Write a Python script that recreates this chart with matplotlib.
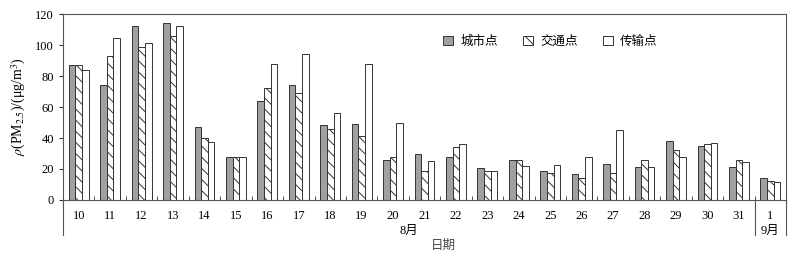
import numpy as np
import matplotlib.pyplot as plt

plt.rcParams['font.family'] = ['Liberation Serif', 'Noto Sans CJK SC']
plt.rcParams['mathtext.fontset'] = 'stix'
plt.rcParams['hatch.linewidth'] = 0.7

days = ['10', '11', '12', '13', '14', '15', '16', '17', '18', '19', '20', '21',
        '22', '23', '24', '25', '26', '27', '28', '29', '30', '31', '1']
city = [87, 74.5, 112, 114, 47, 28, 64, 74.5, 48.5, 49, 26, 29.5,
        27.5, 20.5, 26, 18.5, 17, 23, 21.5, 38, 35, 21.5, 14.5]
traffic = [87, 93, 99, 106, 40, 28, 72, 69, 46, 41, 27.5, 18.5,
           34.5, 19, 26, 17.5, 14.5, 17.5, 26, 32, 36, 25.5, 12.5]
transport = [84, 104.5, 101, 112, 37.5, 27.5, 88, 94, 56, 88, 50, 25,
             36, 19, 22, 22.5, 27.5, 45, 21.5, 27.5, 36.5, 24.5, 11.5]

fig = plt.figure(figsize=(8.01, 2.57), dpi=100)
ax = fig.add_axes([0.0787, 0.2218, 0.9026, 0.7237])

x = np.arange(len(days))
w = 0.21
ec = '#333333'
ax.bar(x - w, city, w, color='#a0a0a0', edgecolor=ec, linewidth=0.7, label='城市点')
ax.bar(x, traffic, w, color='white', edgecolor=ec, linewidth=0.7, hatch='\\\\\\', label='交通点')
ax.bar(x + w, transport, w, color='white', edgecolor=ec, linewidth=0.7, label='传输点')

ax.set_xlim(-0.5, len(days) - 0.5)
ax.set_ylim(0, 120)
ax.set_yticks(range(0, 121, 20))
ax.set_xticks(x)
ax.set_xticklabels(days)
ax.set_xticks(np.arange(0.5, len(days) - 1, 1), minor=True)
ax.tick_params(axis='x', which='major', length=0, pad=7, labelsize=9)
ax.tick_params(axis='x', which='minor', direction='in', length=3, color=ec)
ax.tick_params(axis='y', direction='out', length=3, labelsize=9, color=ec)
for s in ax.spines.values():
    s.set_color('#555555')
    s.set_linewidth(0.8)

tr = ax.get_xaxis_transform()
for xv in [-0.5, len(days) - 1.5, len(days) - 0.5]:
    ax.plot([xv, xv], [0, -0.19], transform=tr, clip_on=False, color='#555555', lw=0.8)

ax.text(10.5, -0.165, '8月', transform=tr, ha='center', va='center', fontsize=9)
ax.text(22, -0.165, '9月', transform=tr, ha='center', va='center', fontsize=9)
ax.text(11.6, -0.245, '日期', transform=tr, ha='center', va='center', fontsize=9, color='#444444')

ax.set_ylabel(r'$\rho$(PM$_{2.5}$)/(μg/m$^3$)', fontsize=10, labelpad=5)

ax.legend(loc='upper left', bbox_to_anchor=(0.525, 0.885), ncol=3, frameon=False,
          fontsize=9, handlelength=0.8, handleheight=0.8, columnspacing=2.0,
          handletextpad=0.6, borderpad=0, borderaxespad=0)

fig.savefig('out.png', dpi=100)
